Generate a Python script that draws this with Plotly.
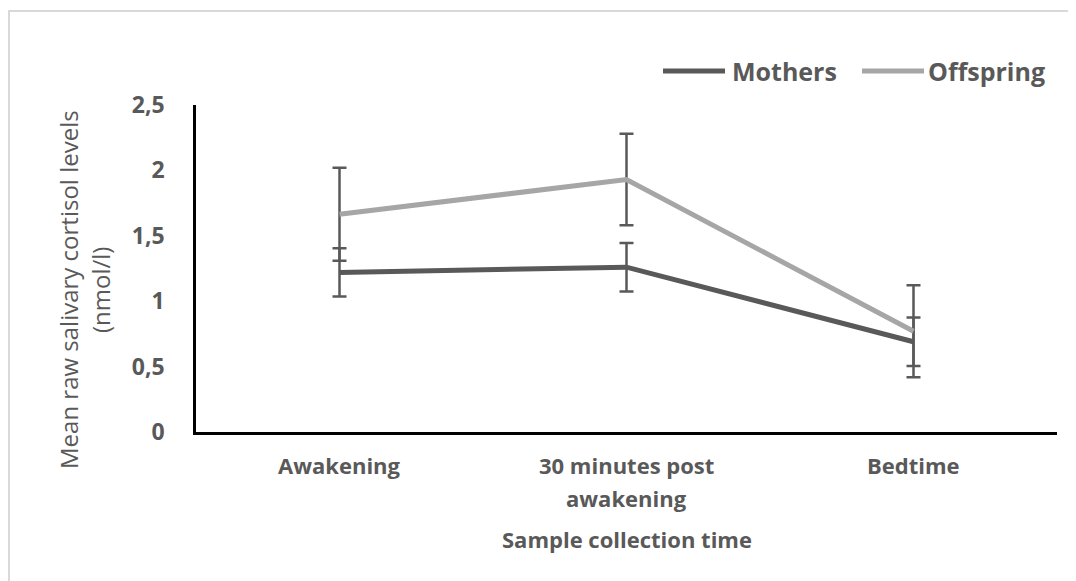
import plotly.graph_objects as go

categories = ["Awakening", "30 minutes post<br>awakening", "Bedtime"]
mothers = [1.22, 1.26, 0.69]
mothers_err = [0.185, 0.185, 0.185]
offspring = [1.665, 1.93, 0.77]
offspring_err = [0.355, 0.35, 0.352]
y_ticks = [0, 0.5, 1, 1.5, 2, 2.5]
y_tick_text = ["0", "0,5", "1", "1,5", "2", "2,5"]
series_names = ["Mothers", "Offspring"]
series_colors = ["#595959", "#A6A6A6"]

# page body has an 8px margin; work in target-screen pixels and convert
OFF = 8
W, H = 1076 - OFF, 581 - OFF
L, R, T, B = 196 - OFF, 1057 - OFF, 105 - OFF, 432 - OFF
pw, ph = R - L, B - T


def px(x):
    return (x - OFF - L) / pw


def py(y):
    return (B - (y - OFF)) / ph


grey = "#595959"
font_family = "Open Sans, DejaVu Sans, sans-serif"

fig = go.Figure()
for name, vals, errs, col in [
    (series_names[0], mothers, mothers_err, series_colors[0]),
    (series_names[1], offspring, offspring_err, series_colors[1]),
]:
    fig.add_trace(go.Scatter(
        x=categories, y=vals, name=name, mode="lines",
        line=dict(color=col, width=5),
        error_y=dict(type="data", array=errs, visible=True,
                     color="#595959", thickness=2.5, width=7),
        showlegend=False,
    ))

annotations = []
# category labels, one annotation per line, positioned on the category axis
line_y = [465, 498]
for cat in categories:
    for i, part in enumerate(cat.split("<br>")):
        annotations.append(dict(
            text=part, xref="x", yref="paper", x=cat, y=py(line_y[i]),
            xanchor="center", yanchor="middle", showarrow=False,
            font=dict(size=22, color=grey, weight="bold")))
annotations.append(dict(
    text="Sample collection time", xref="paper", yref="paper",
    x=0.5, y=py(539), xanchor="center", yanchor="middle", showarrow=False,
    font=dict(size=22, color=grey, weight="bold")))
annotations.append(dict(
    text="Mean raw salivary cortisol levels", xref="paper", yref="paper",
    x=px(68), y=py(290), xanchor="center", yanchor="middle",
    textangle=-90, showarrow=False, font=dict(size=24, color=grey)))
annotations.append(dict(
    text="(nmol/l)", xref="paper", yref="paper",
    x=px(100), y=py(290), xanchor="center", yanchor="middle",
    textangle=-90, showarrow=False, font=dict(size=24, color=grey)))

# legend (drawn manually to match the long legend keys)
legend_keys = [(663, 725, 730), (862, 924, 926)]
shapes = [
    dict(type="rect", xref="paper", yref="paper",
         x0=px(9), x1=px(1100), y0=py(620), y1=py(11),
         line=dict(color="#D9D9D9", width=2), fillcolor="rgba(0,0,0,0)", layer="below"),
]
for (x0, x1, xt), name, col in zip(legend_keys, series_names, series_colors):
    shapes.append(dict(type="line", xref="paper", yref="paper",
                       x0=px(x0), x1=px(x1), y0=py(71), y1=py(71),
                       line=dict(color=col, width=5)))
    annotations.append(dict(
        text=name, xref="paper", yref="paper", x=px(xt), y=py(71),
        xanchor="left", yanchor="middle", showarrow=False,
        font=dict(size=25, color=grey, weight="bold")))

fig.update_layout(
    width=W, height=H,
    margin=dict(l=L, r=W - R, t=T, b=H - B),
    paper_bgcolor="white", plot_bgcolor="white",
    font=dict(family=font_family, color=grey, size=20),
    showlegend=False,
    xaxis=dict(
        type="category", range=[-0.5, 2.5],
        showline=True, linecolor="black", linewidth=2.5,
        showgrid=False, zeroline=False, showticklabels=False, ticks="",
    ),
    yaxis=dict(
        range=[0, 2.5], tickvals=y_ticks, ticktext=y_tick_text,
        showline=True, linecolor="black", linewidth=2.5,
        showgrid=False, zeroline=False,
        ticks="outside", ticklen=24, tickcolor="rgba(0,0,0,0)",
        tickfont=dict(size=23, color=grey, weight="bold"),
    ),
    annotations=annotations,
    shapes=shapes,
)

fig.write_html("out.html")
